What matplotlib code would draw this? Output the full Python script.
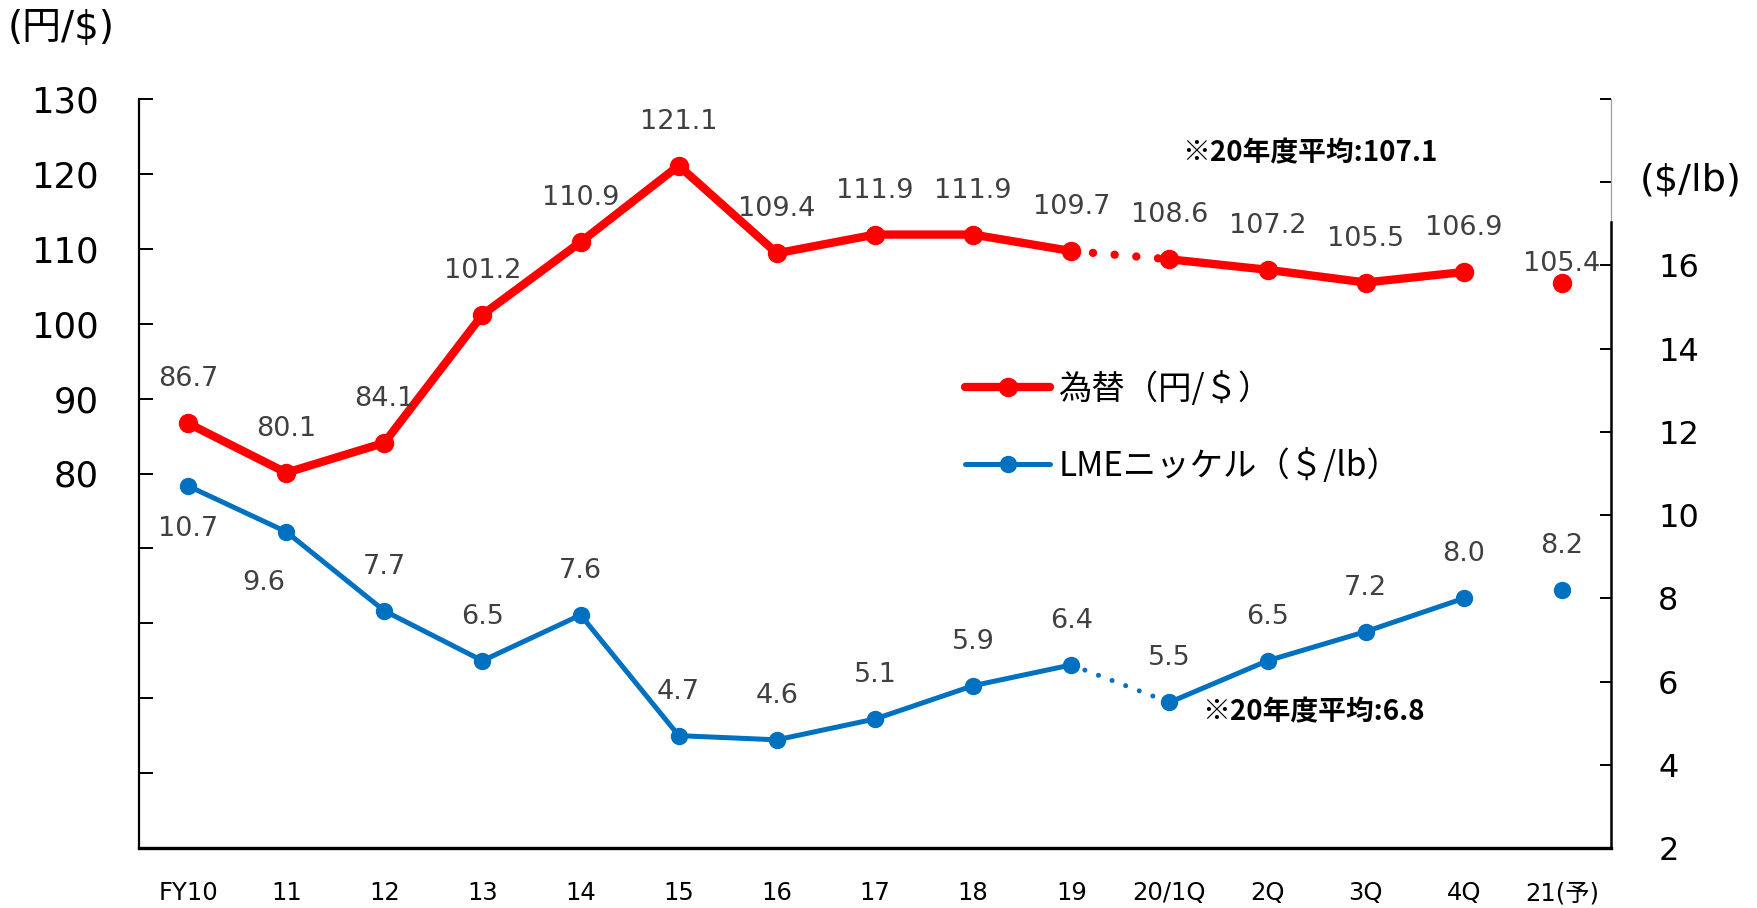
import matplotlib
matplotlib.use('Agg')
import matplotlib.pyplot as plt
from matplotlib.lines import Line2D
from matplotlib.ticker import FixedLocator, FuncFormatter
from matplotlib.font_manager import FontProperties

# ---------------- data ----------------
categories = ['FY10', '11', '12', '13', '14', '15', '16', '17', '18', '19',
              '20/1Q', '2Q', '3Q', '4Q', '21(予)']
fx_rate = [86.7, 80.1, 84.1, 101.2, 110.9, 121.1, 109.4, 111.9, 111.9, 109.7,
           108.6, 107.2, 105.5, 106.9, 105.4]
nickel = [10.7, 9.6, 7.7, 6.5, 7.6, 4.7, 4.6, 5.1, 5.9, 6.4,
          5.5, 6.5, 7.2, 8.0, 8.2]
fx_label = '為替（円/＄）'
ni_label = 'LMEニッケル（＄/lb）'
fx_note = '※20年度平均:107.1'
ni_note = '※20年度平均:6.8'
left_unit = '(円/$)'
right_unit = '($/lb)'
left_ticks = [30, 40, 50, 60, 70, 80, 90, 100, 110, 120, 130]
left_label_min = 80
right_ticks = [2, 4, 6, 8, 10, 12, 14, 16, 18, 20]
right_label_max = 16

# segments (index ranges) : annual solid, bridge dotted, quarterly solid, forecast point
solid_a = (0, 10)
bridge = (9, 11)
solid_b = (10, 14)

# ---------------- style ----------------
RED = '#FF0000'
BLUE = '#0070C0'
GRAY = '#404040'
W, H = 1757, 908
fig = plt.figure(figsize=(W / 100, H / 100), dpi=100)
L, R, T, B = 139, 1611, 99, 848
ax = fig.add_axes([L / W, (H - B) / H, (R - L) / W, (B - T) / H])
ax2 = ax.twinx()

x = list(range(len(categories)))
ax.set_xlim(-0.5, len(categories) - 0.5)
ax.set_ylim(30, 130)
ax2.set_ylim(2, 20)

RLW, BLW = 6.0, 3.6
RMS, BMS = 13, 11.5

def draw(axis, vals, color, lw, ms, dotgap):
    for (a, b) in (solid_a, solid_b):
        axis.plot(x[a:b], vals[a:b], color=color, lw=lw, solid_capstyle='round', zorder=3)
    ln, = axis.plot(x[bridge[0]:bridge[1]], vals[bridge[0]:bridge[1]], color=color, lw=lw,
                    zorder=2)
    ln.set_dashes((0.01, dotgap))
    ln.set_dash_capstyle('round')
    axis.plot(x, vals, linestyle='none', marker='o', ms=ms, color=color, zorder=4)

draw(ax, fx_rate, RED, RLW, RMS, 2.6)
draw(ax2, nickel, BLUE, BLW, BMS, 2.9)

# data labels
lab_font = dict(fontsize=19.5, color=GRAY, family='DejaVu Sans', ha='center', va='center')
fx_off = [(0, 44)] * (len(fx_rate) - 1) + [(0, 19)]
ni_off = [(0, -43), (-22, -51)] + [(0, 44)] * (len(nickel) - 2)
for i, v in enumerate(fx_rate):
    ax.annotate(f'{v:.1f}', (x[i], v), xytext=fx_off[i], textcoords='offset pixels', **lab_font)
for i, v in enumerate(nickel):
    ax2.annotate(f'{v:.1f}', (x[i], v), xytext=ni_off[i], textcoords='offset pixels', **lab_font)

# axes styling
ax.spines['top'].set_visible(False)
ax.spines['right'].set_visible(False)
ax.spines['left'].set_linewidth(1.6)
ax.spines['bottom'].set_linewidth(2.4)
for s in ('top', 'left', 'bottom'):
    ax2.spines[s].set_visible(False)
ax2.spines['right'].set_linewidth(1.8)
ax2.spines['right'].set_bounds(2, 17.05)
ax2.axvline(len(categories) - 0.5, ymin=(17.05 - 2) / 18, ymax=1, color='#A0A0A0', lw=0.9,
            clip_on=False)

ax.yaxis.set_major_locator(FixedLocator(left_ticks))
ax.yaxis.set_major_formatter(FuncFormatter(lambda v, p: f'{v:.0f}' if v >= left_label_min else ''))
ax.tick_params(axis='y', direction='in', length=10, width=1.4, pad=29, labelsize=25.5,
               labelcolor='black')
ax2.yaxis.set_major_locator(FixedLocator(right_ticks))
ax2.yaxis.set_major_formatter(FuncFormatter(lambda v, p: f'{v:.0f}' if v <= right_label_max else ''))
ax2.tick_params(axis='y', direction='in', length=8, width=1.4, pad=34, labelsize=23,
                labelcolor='black')

ax.set_xticks(x)
ax.set_xticklabels(categories)
ax.tick_params(axis='x', length=0, pad=24)
for t in ax.get_xticklabels():
    t.set_fontfamily(['DejaVu Sans', 'Noto Sans CJK JP'])
    t.set_fontsize(17.5)

# legend
handles = [Line2D([], [], color=RED, lw=RLW, marker='o', ms=RMS, solid_capstyle='round'),
           Line2D([], [], color=BLUE, lw=BLW, marker='o', ms=BMS, solid_capstyle='round')]
ax.legend(handles, [fx_label, ni_label], loc='upper left',
          bbox_to_anchor=((965 - L) / (R - L), (B - 372) / (B - T)),
          frameon=False, prop=FontProperties(family='Noto Sans CJK JP', size=24),
          handlelength=2.55, handletextpad=0.25, labelspacing=1.25, borderpad=0, borderaxespad=0)

# notes and units
note_font = dict(family='Noto Sans CJK JP', fontsize=20, fontweight='bold', color='black',
                 ha='left', va='center')
fig.text(1182 / W, 1 - 153 / H, fx_note, **note_font)
fig.text(1202 / W, 1 - 712 / H, ni_note, **note_font)
unit_family = ['DejaVu Sans', 'Noto Sans CJK JP']
fig.text(8 / W, 1 - 28 / H, left_unit, family=unit_family, fontsize=28, ha='left', va='center')
fig.text(1691 / W, 1 - 181 / H, right_unit, family=unit_family, fontsize=27.5, ha='center', va='center')

fig.savefig('out.png', dpi=100)
